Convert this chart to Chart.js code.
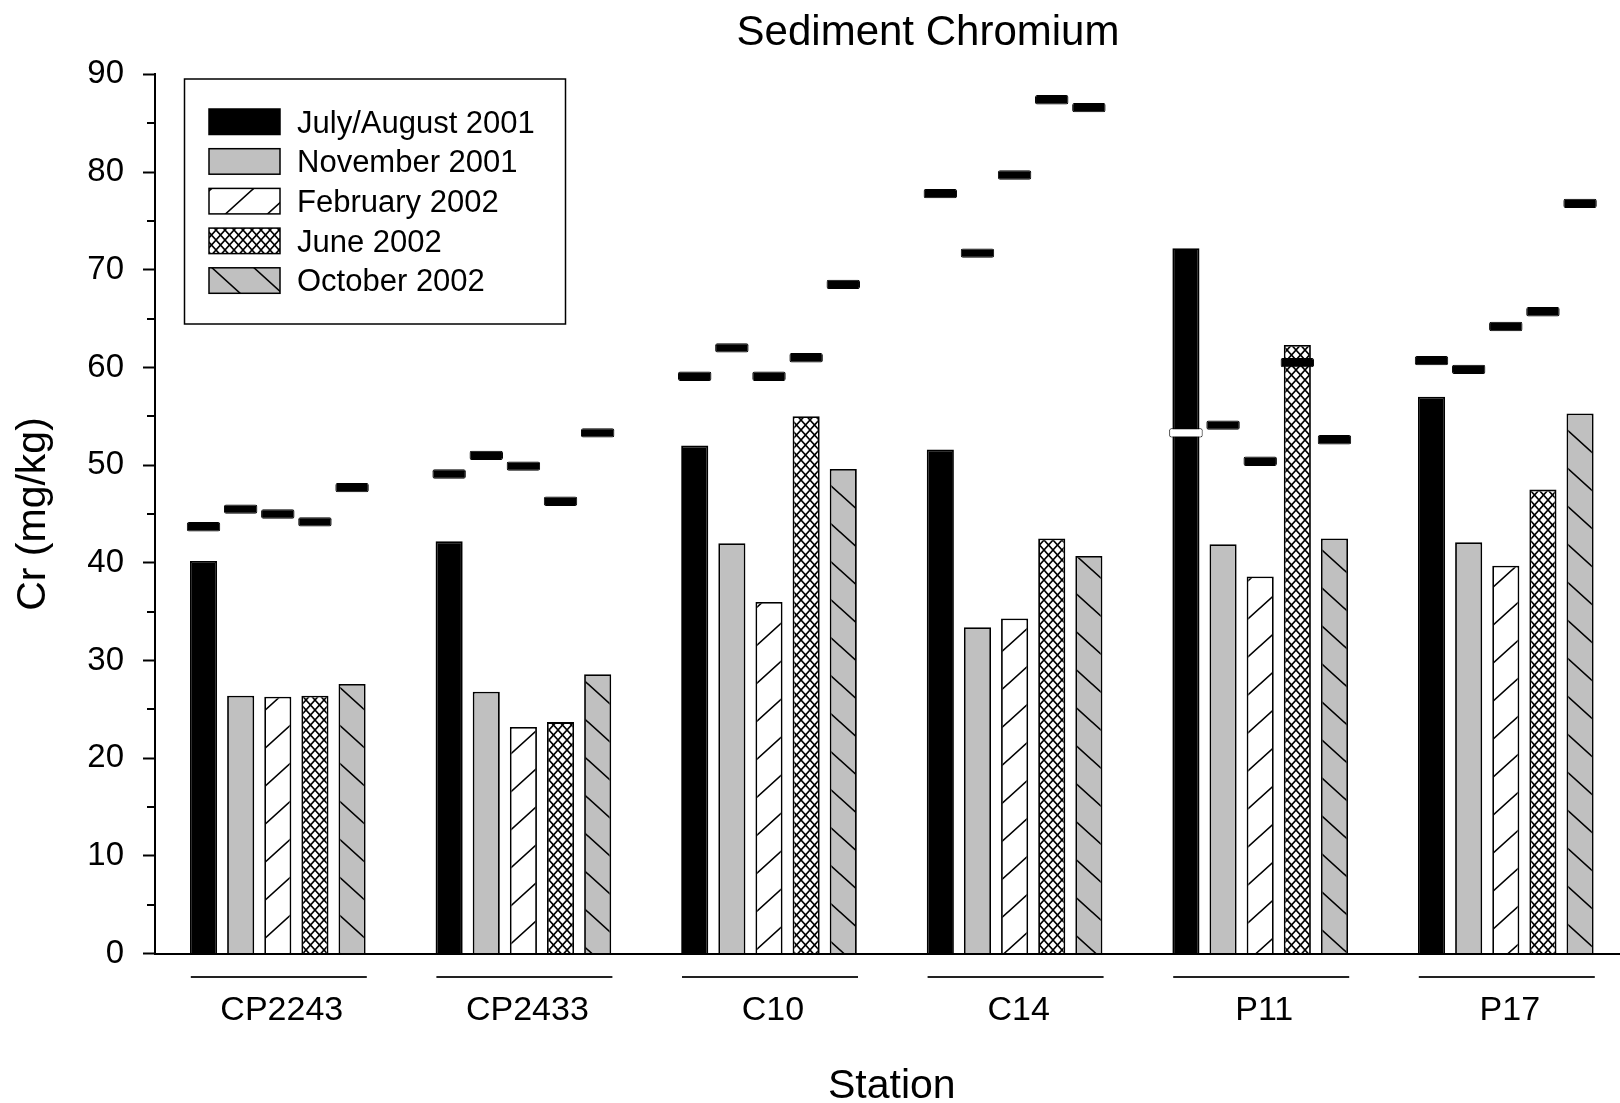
<!DOCTYPE html>
<html>
<head>
<meta charset="utf-8">
<title>Sediment Chromium</title>
<script src="https://cdn.jsdelivr.net/npm/chart.js"></script>
<style>
  body { margin: 0; background: #fff; }
  #wrap { width: 1620px; height: 1103px; overflow: hidden; }
</style>
</head>
<body>
<div id="wrap"><canvas id="cr-chart" width="1620" height="1103"></canvas></div>
<script>
// stations and sampling events
var stations = ['CP2243', 'CP2433', 'C10', 'C14', 'P11', 'P17'];
var seriesNames = ['July/August 2001', 'November 2001', 'February 2002', 'June 2002', 'October 2002'];

// bar heights, Cr (mg/kg)
var jul01 = [40.2, 42.2, 52.0, 51.6, 72.2, 57.0];
var nov01 = [26.4, 26.8, 42.0, 33.4, 41.9, 42.1];
var feb02 = [26.3, 23.2, 36.0, 34.3, 38.6, 39.7];
var jun02 = [26.4, 23.7, 55.0, 42.5, 62.3, 47.5];
var oct02 = [27.6, 28.6, 49.6, 40.7, 42.5, 55.3];

// the short dash drawn above each bar
var markJul01 = [43.7, 49.1, 59.1, 77.8, 53.3, 60.7];
var markNov01 = [45.5, 51.0, 62.0, 71.7, 54.1, 59.8];
var markFeb02 = [45.0, 49.9, 59.1, 79.7, 50.4, 64.2];
var markJun02 = [44.2, 46.3, 61.0, 87.4, 60.5, 65.7];
var markOct02 = [47.7, 53.3, 68.5, 86.6, 52.6, 76.8];

var yTicks = [0, 10, 20, 30, 40, 50, 60, 70, 80, 90];

var FONT = '"Liberation Sans", Arial, Helvetica, sans-serif';
Chart.defaults.font.family = FONT;
Chart.defaults.color = '#000';

var canvas = document.getElementById('cr-chart');
var ctx = canvas.getContext('2d');

// hatch fills
function linePattern(bg, rising, w, h) {
    var c = document.createElement('canvas');
    c.width = w; c.height = h;
    var g = c.getContext('2d');
    g.fillStyle = bg;
    g.fillRect(0, 0, w, h);
    g.strokeStyle = '#000';
    g.lineWidth = 1.6;
    g.beginPath();
    var ex = 2, ey = 2 * h / w;
    if (rising) {
        g.moveTo(-ex, h + ey); g.lineTo(w + ex, -ey);
        g.moveTo(-ex, ey); g.lineTo(ex, -ey);
        g.moveTo(w - ex, h + ey); g.lineTo(w + ex, h - ey);
    } else {
        g.moveTo(-ex, -ey); g.lineTo(w + ex, h + ey);
        g.moveTo(w - ex, -ey); g.lineTo(w + ex, ey);
        g.moveTo(-ex, h - ey); g.lineTo(ex, h + ey);
    }
    g.stroke();
    return ctx.createPattern(c, 'repeat');
}

function crossPattern(w, h) {
    var c = document.createElement('canvas');
    c.width = w; c.height = h;
    var g = c.getContext('2d');
    g.fillStyle = '#fff';
    g.fillRect(0, 0, w, h);
    g.strokeStyle = '#000';
    g.lineWidth = 1.7;
    g.beginPath();
    g.moveTo(-1, -1); g.lineTo(w + 1, h + 1);
    g.moveTo(-1, h + 1); g.lineTo(w + 1, -1);
    g.stroke();
    return ctx.createPattern(c, 'repeat');
}

var fills = ['#000', '#c0c0c0', linePattern('#fff', true, 42, 38), crossPattern(9, 10), linePattern('#c0c0c0', false, 42, 38)];
var barValues = [jul01, nov01, feb02, jun02, oct02];
var markValues = [markJul01, markNov01, markFeb02, markJun02, markOct02];
var dashHalf = 0.48;

var datasets = [];
for (var k = 0; k < seriesNames.length; k++) {
    datasets.push({
        label: seriesNames[k],
        data: barValues[k],
        backgroundColor: fills[k],
        borderColor: '#000',
        borderWidth: 1.8,
        stack: 's' + k,
        order: 2,
        barPercentage: 0.73,
        categoryPercentage: 0.756
    });
}
for (var k = 0; k < seriesNames.length; k++) {
    datasets.push({
        label: 'mark ' + seriesNames[k],
        data: markValues[k].map(function (v) { return [v - dashHalf, v + dashHalf]; }),
        // the July/August dash at P11 sits on its own black bar, so it is open
        backgroundColor: stations.map(function (s) { return (k === 0 && s === 'P11') ? '#fff' : '#000'; }),
        borderColor: '#000',
        borderWidth: 1,
        borderSkipped: false,
        borderRadius: 2,
        stack: 's' + k,
        order: 1,
        barPercentage: 0.9,
        categoryPercentage: 0.756
    });
}

// title, legend box, minor ticks and the lines under each station
var extras = {
    id: 'extras',
    afterLayout: function (chart) {
        // the original axis runs a little past the right edge of the picture
        var xs = chart.scales.x;
        xs.right = chart.width + 8.6;
        xs.width = xs.right - xs.left;
        xs.configure();
    },
    afterDraw: function (chart) {
        var c = chart.ctx;
        var xs = chart.scales.x, ys = chart.scales.y;
        c.save();

        c.fillStyle = '#000';
        c.font = '42px ' + FONT;
        c.textAlign = 'center';
        c.textBaseline = 'middle';
        c.fillText('Sediment Chromium', 928, 33);

        // minor ticks
        c.strokeStyle = '#000';
        c.lineWidth = 2;
        c.beginPath();
        for (var v = 5; v < 90; v += 10) {
            var py = Math.round(ys.getPixelForValue(v));
            c.moveTo(xs.left - 8, py);
            c.lineTo(xs.left, py);
        }
        c.stroke();

        // station underlines
        c.strokeStyle = '#222';
        c.lineWidth = 2;
        c.beginPath();
        for (var i = 0; i < stations.length; i++) {
            var cx = xs.getPixelForValue(i);
            c.moveTo(cx - 87, 977);
            c.lineTo(cx + 89, 977);
        }
        c.stroke();

        // legend
        c.fillStyle = '#fff';
        c.fillRect(184.5, 79, 381, 245);
        c.lineWidth = 1.5;
        c.strokeStyle = '#000';
        c.strokeRect(184.5, 79, 381, 245);
        c.font = '31px ' + FONT;
        c.textAlign = 'left';
        for (var j = 0; j < seriesNames.length; j++) {
            var ds = chart.data.datasets[j];
            var top = 109 + j * 39.7;
            c.fillStyle = ds.backgroundColor;
            c.fillRect(209, top, 71, 25.5);
            c.strokeRect(209, top, 71, 25.5);
            c.fillStyle = '#000';
            c.fillText(ds.label, 297, top + 15);
        }
        c.restore();
    }
};

new Chart(ctx, {
    type: 'bar',
    data: { labels: stations, datasets: datasets },
    options: {
        responsive: false,
        animation: false,
        layout: { padding: { top: 74.4, right: 0, bottom: 0, left: 0 } },
        plugins: {
            legend: { display: false },
            tooltip: { enabled: false },
            title: { display: false }
        },
        scales: {
            x: {
                stacked: true,
                afterFit: function (s) { s.height = 149.4; },
                grid: { display: true, drawOnChartArea: false, drawTicks: false },
                border: { display: true, color: '#000', width: 2 },
                ticks: { font: { size: 34 }, color: '#000', padding: 37, labelOffset: 4, maxRotation: 0, autoSkip: false },
                title: { display: true, text: 'Station', font: { size: 41, lineHeight: 0.8 }, color: '#000', padding: { top: 0, bottom: 0 } }
            },
            y: {
                stacked: false,
                min: 0,
                max: 90,
                afterFit: function (s) { s.width = 155; },
                afterBuildTicks: function (s) { s.ticks = yTicks.map(function (v) { return { value: v }; }); },
                grid: { drawOnChartArea: false, drawTicks: true, tickLength: 12, tickWidth: 2, tickColor: '#000' },
                border: { display: true, color: '#000', width: 2 },
                ticks: { font: { size: 33 }, color: '#000', padding: 19 },
                title: { display: true, text: 'Cr (mg/kg)', font: { size: 41, lineHeight: 1.2 }, color: '#000', padding: { top: 9.4, bottom: 0 } }
            }
        }
    },
    plugins: [extras]
});
</script>
</body>
</html>
